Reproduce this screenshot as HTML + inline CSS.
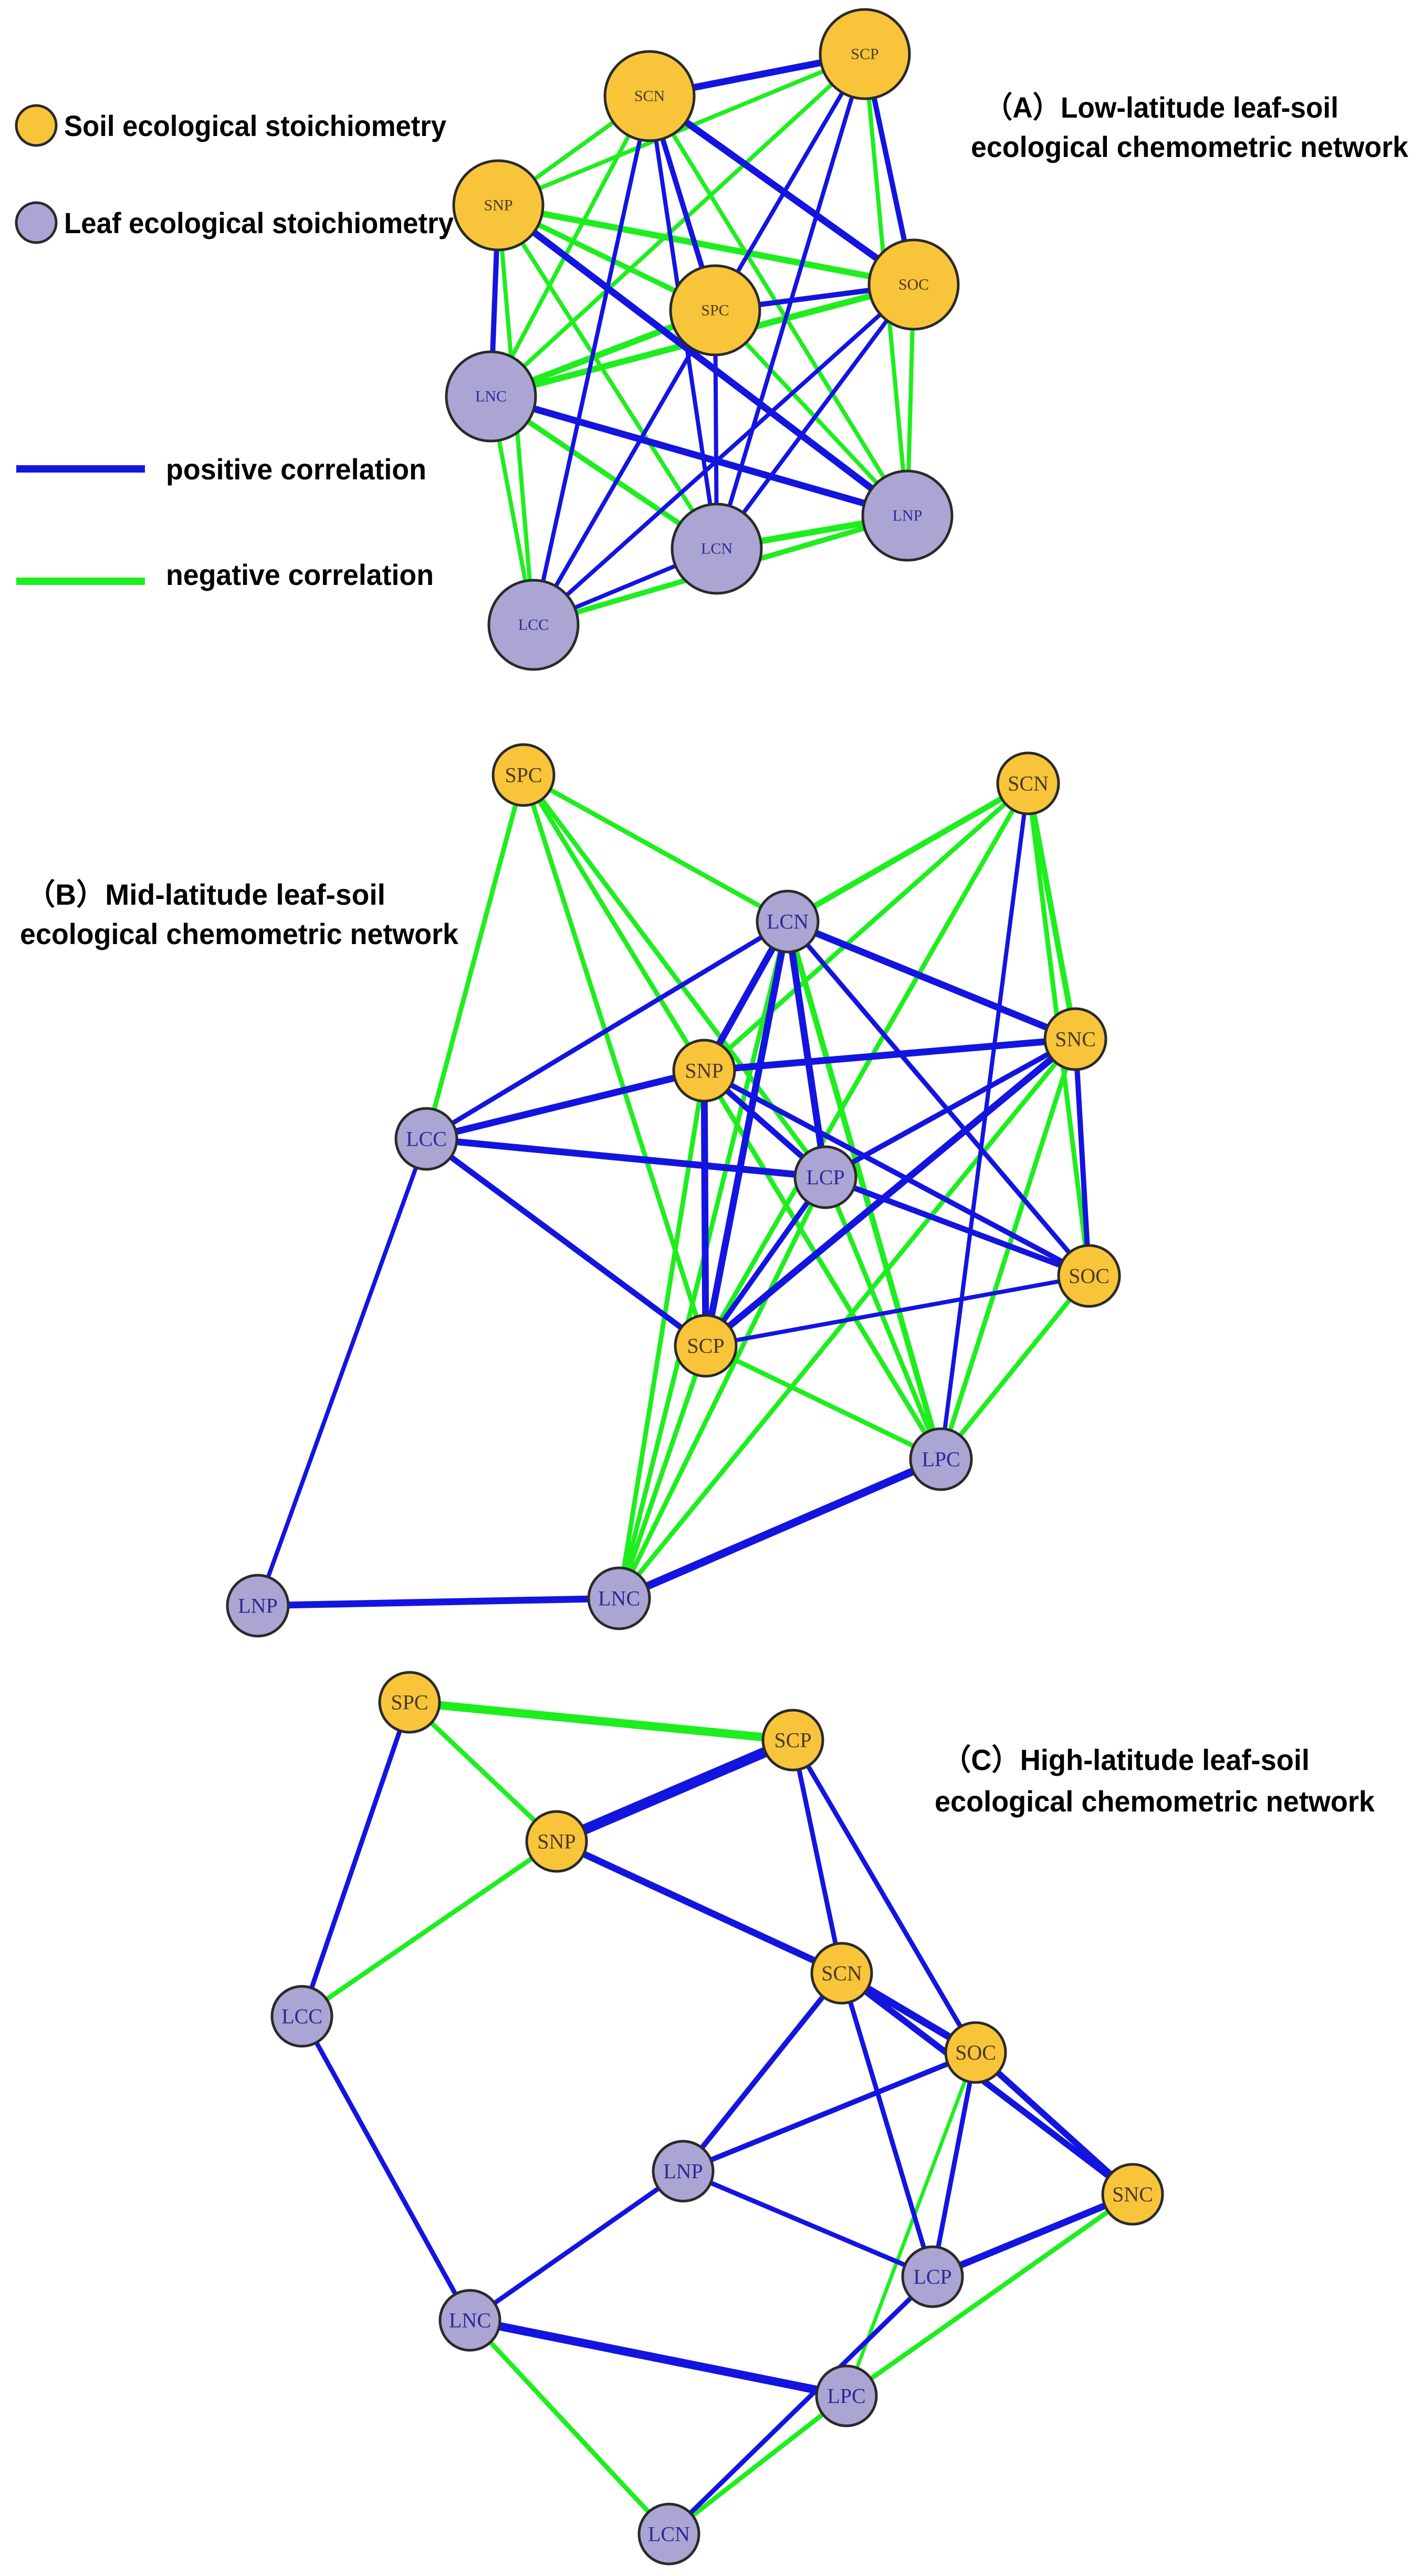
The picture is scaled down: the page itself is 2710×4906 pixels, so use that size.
<!DOCTYPE html>
<html><head><meta charset="utf-8"><style>
html,body{margin:0;padding:0;background:#fff;}
svg{display:block;}
.b{stroke:#1414E0;}
.g{stroke:#1EEE1E;}
line{stroke-linecap:butt;}
.s{fill:#F8C43A;stroke:#2a2a2a;stroke-width:5;}
.l{fill:#ABA5D3;stroke:#2a2a2a;stroke-width:5;}
.ts{font-family:"Liberation Serif",serif;fill:#4a3a28;text-anchor:middle;dominant-baseline:central;}
.tl{font-family:"Liberation Serif",serif;fill:#2a2a96;text-anchor:middle;dominant-baseline:central;}
.h{font-family:"Liberation Sans",sans-serif;font-weight:bold;fill:#000;font-size:56px;}
</style></head><body>
<svg width="2710" height="4906" viewBox="0 0 2710 4906" xmlns="http://www.w3.org/2000/svg">
<!-- Legend -->
<circle cx="69" cy="239" r="38" class="s" stroke-width="4"/>
<circle cx="69" cy="424" r="38" class="l" stroke-width="4"/>
<text class="h" x="122" y="259" textLength="728" lengthAdjust="spacingAndGlyphs">Soil ecological stoichiometry</text>
<text class="h" x="122" y="444" textLength="742" lengthAdjust="spacingAndGlyphs">Leaf ecological stoichiometry</text>
<line x1="31" y1="893" x2="276" y2="893" class="b" stroke-width="14"/>
<line x1="31" y1="1107" x2="276" y2="1107" class="g" stroke-width="14"/>
<text class="h" x="316" y="913" textLength="496" lengthAdjust="spacingAndGlyphs">positive correlation</text>
<text class="h" x="316" y="1114" textLength="510" lengthAdjust="spacingAndGlyphs">negative correlation</text>
<text class="h" x="1875" y="224" textLength="674" lengthAdjust="spacingAndGlyphs">（A）Low-latitude leaf-soil</text>
<text class="h" x="1849" y="299" textLength="833" lengthAdjust="spacingAndGlyphs">ecological chemometric network</text>
<text class="h" x="50" y="1723" textLength="684" lengthAdjust="spacingAndGlyphs">（B）Mid-latitude leaf-soil</text>
<text class="h" x="38" y="1798" textLength="835" lengthAdjust="spacingAndGlyphs">ecological chemometric network</text>
<text class="h" x="1795" y="3371" textLength="699" lengthAdjust="spacingAndGlyphs">（C）High-latitude leaf-soil</text>
<text class="h" x="1780" y="3450" textLength="838" lengthAdjust="spacingAndGlyphs">ecological chemometric network</text>

<!-- Panel A edges -->
<g>
<!-- green thin -->
<g stroke-width="8" class="g">
<line x1="1237" y1="183" x2="949" y2="391" class="g"/>
<line x1="1237" y1="183" x2="935" y2="755" class="g"/>
<line x1="1237" y1="183" x2="1728" y2="982" class="g"/>
<line x1="1647" y1="103" x2="949" y2="391" class="g"/>
<line x1="1647" y1="103" x2="935" y2="755" class="g"/>
<line x1="1647" y1="103" x2="1728" y2="982" class="g"/>
<line x1="949" y1="391" x2="1362" y2="591" class="g" stroke-width="10"/>
<line x1="949" y1="391" x2="1365" y2="1045" class="g"/>
<line x1="949" y1="391" x2="1016" y2="1190" class="g"/>
<line x1="1362" y1="591" x2="1728" y2="982" class="g"/>
<line x1="1740" y1="542" x2="1728" y2="982" class="g"/>
<line x1="935" y1="755" x2="1365" y2="1045" class="g" stroke-width="10"/>
<line x1="935" y1="755" x2="1016" y2="1190" class="g"/>
<line x1="1728" y1="982" x2="1016" y2="1190" class="g" stroke-width="10"/>
</g>
<g stroke-width="12">
<line x1="949" y1="391" x2="1740" y2="542" class="g"/>
<line x1="1362" y1="591" x2="935" y2="755" class="g"/>
<line x1="1740" y1="542" x2="935" y2="755" class="g"/>
<line x1="1365" y1="1045" x2="1728" y2="982" class="g"/>
</g>
<g stroke-width="8">
<line x1="1237" y1="183" x2="1016" y2="1190" class="b"/>
<line x1="1237" y1="183" x2="1362" y2="591" class="b" stroke-width="10"/>
<line x1="1237" y1="183" x2="1365" y2="1045" class="b"/>
<line x1="1647" y1="103" x2="1362" y2="591" class="b"/>
<line x1="1647" y1="103" x2="1365" y2="1045" class="b"/>
<line x1="1647" y1="103" x2="1740" y2="542" class="b" stroke-width="10"/>
<line x1="949" y1="391" x2="935" y2="755" class="b" stroke-width="10"/>
<line x1="1362" y1="591" x2="1740" y2="542" class="b" stroke-width="10"/>
<line x1="1362" y1="591" x2="1016" y2="1190" class="b"/>
<line x1="1362" y1="591" x2="1365" y2="1045" class="b"/>
<line x1="1740" y1="542" x2="1016" y2="1190" class="b"/>
<line x1="1740" y1="542" x2="1365" y2="1045" class="b"/>
<line x1="1365" y1="1045" x2="1016" y2="1190" class="b"/>
</g>
<g stroke-width="13">
<line x1="1237" y1="183" x2="1647" y2="103" class="b"/>
<line x1="1237" y1="183" x2="1740" y2="542" class="b"/>
<line x1="949" y1="391" x2="1728" y2="982" class="b"/>
<line x1="935" y1="755" x2="1728" y2="982" class="b"/>
</g>
</g>
<!-- Panel A nodes -->
<g font-size="30">
<circle cx="1237" cy="183" r="85" class="s"/><text x="1237" y="183" class="ts" font-size="30">SCN</text>
<circle cx="1647" cy="103" r="85" class="s"/><text x="1647" y="103" class="ts" font-size="30">SCP</text>
<circle cx="949" cy="391" r="85" class="s"/><text x="949" y="391" class="ts" font-size="30">SNP</text>
<circle cx="1740" cy="542" r="85" class="s"/><text x="1740" y="542" class="ts" font-size="30">SOC</text>
<circle cx="1362" cy="591" r="85" class="s"/><text x="1362" y="591" class="ts" font-size="30">SPC</text>
<circle cx="935" cy="755" r="85" class="l"/><text x="935" y="755" class="tl" font-size="30">LNC</text>
<circle cx="1728" cy="982" r="85" class="l"/><text x="1728" y="982" class="tl" font-size="30">LNP</text>
<circle cx="1365" cy="1045" r="85" class="l"/><text x="1365" y="1045" class="tl" font-size="30">LCN</text>
<circle cx="1016" cy="1190" r="85" class="l"/><text x="1016" y="1190" class="tl" font-size="30">LCC</text>
</g>

<!-- Panel B edges -->
<g stroke-width="9">
<line x1="997" y1="1476" x2="812" y2="2169" class="g"/>
<line x1="997" y1="1476" x2="1500" y2="1755" class="g"/>
<line x1="997" y1="1476" x2="1344" y2="2563" class="g"/>
<line x1="997" y1="1476" x2="1572" y2="2242" class="g"/>
<line x1="997" y1="1476" x2="1792" y2="2779" class="g"/>
<line x1="1958" y1="1492" x2="1500" y2="1755" class="g" stroke-width="11"/>
<line x1="1958" y1="1492" x2="1341" y2="2039" class="g"/>
<line x1="1958" y1="1492" x2="1344" y2="2563" class="g"/>
<line x1="1958" y1="1492" x2="2048" y2="1979" class="g" stroke-width="11"/>
<line x1="1958" y1="1492" x2="2074" y2="2430" class="g"/>
<line x1="1500" y1="1755" x2="1792" y2="2779" class="g" stroke-width="11"/>
<line x1="1500" y1="1755" x2="1179" y2="3044" class="g"/>
<line x1="2048" y1="1979" x2="1792" y2="2779" class="g"/>
<line x1="2048" y1="1979" x2="1179" y2="3044" class="g"/>
<line x1="1341" y1="2039" x2="1792" y2="2779" class="g"/>
<line x1="1341" y1="2039" x2="1179" y2="3044" class="g"/>
<line x1="1572" y1="2242" x2="1792" y2="2779" class="g"/>
<line x1="1572" y1="2242" x2="1179" y2="3044" class="g"/>
<line x1="2074" y1="2430" x2="1792" y2="2779" class="g"/>
<line x1="1344" y1="2563" x2="1792" y2="2779" class="g"/>
<line x1="1344" y1="2563" x2="1179" y2="3044" class="g"/>
</g>
<g stroke-width="8">
<line x1="1958" y1="1492" x2="1792" y2="2779" class="b"/>
<line x1="1500" y1="1755" x2="812" y2="2169" class="b" stroke-width="9"/>
<line x1="1500" y1="1755" x2="2074" y2="2430" class="b" stroke-width="9"/>
<line x1="2048" y1="1979" x2="1572" y2="2242" class="b" stroke-width="10"/>
<line x1="2048" y1="1979" x2="2074" y2="2430" class="b" stroke-width="10"/>
<line x1="1341" y1="2039" x2="2074" y2="2430" class="b" stroke-width="10"/>
<line x1="1341" y1="2039" x2="1572" y2="2242" class="b" stroke-width="11"/>
<line x1="812" y1="2169" x2="491" y2="3058" class="b"/>
<line x1="1572" y1="2242" x2="1344" y2="2563" class="b" stroke-width="10"/>
<line x1="2074" y1="2430" x2="1344" y2="2563" class="b"/>
</g>
<g stroke-width="13">
<line x1="1500" y1="1755" x2="2048" y2="1979" class="b"/>
<line x1="1500" y1="1755" x2="1341" y2="2039" class="b"/>
<line x1="1500" y1="1755" x2="1572" y2="2242" class="b"/>
<line x1="1500" y1="1755" x2="1344" y2="2563" class="b"/>
<line x1="2048" y1="1979" x2="1341" y2="2039" class="b"/>
<line x1="2048" y1="1979" x2="1344" y2="2563" class="b"/>
<line x1="1341" y1="2039" x2="812" y2="2169" class="b"/>
<line x1="1341" y1="2039" x2="1344" y2="2563" class="b"/>
<line x1="812" y1="2169" x2="1572" y2="2242" class="b"/>
<line x1="812" y1="2169" x2="1344" y2="2563" class="b" stroke-width="11"/>
<line x1="1572" y1="2242" x2="2074" y2="2430" class="b" stroke-width="11"/>
<line x1="1792" y1="2779" x2="1179" y2="3044" class="b" stroke-width="15"/>
<line x1="491" y1="3058" x2="1179" y2="3044" class="b"/>
</g>
<!-- Panel B nodes -->
<g>
<circle cx="997" cy="1476" r="58" class="s"/><text x="997" y="1476" class="ts" font-size="40">SPC</text>
<circle cx="1958" cy="1492" r="58" class="s"/><text x="1958" y="1492" class="ts" font-size="40">SCN</text>
<circle cx="1500" cy="1755" r="58" class="l"/><text x="1500" y="1755" class="tl" font-size="40">LCN</text>
<circle cx="2048" cy="1979" r="58" class="s"/><text x="2048" y="1979" class="ts" font-size="40">SNC</text>
<circle cx="1341" cy="2039" r="58" class="s"/><text x="1341" y="2039" class="ts" font-size="40">SNP</text>
<circle cx="812" cy="2169" r="58" class="l"/><text x="812" y="2169" class="tl" font-size="40">LCC</text>
<circle cx="1572" cy="2242" r="58" class="l"/><text x="1572" y="2242" class="tl" font-size="40">LCP</text>
<circle cx="2074" cy="2430" r="58" class="s"/><text x="2074" y="2430" class="ts" font-size="40">SOC</text>
<circle cx="1344" cy="2563" r="58" class="s"/><text x="1344" y="2563" class="ts" font-size="40">SCP</text>
<circle cx="1792" cy="2779" r="58" class="l"/><text x="1792" y="2779" class="tl" font-size="40">LPC</text>
<circle cx="491" cy="3058" r="58" class="l"/><text x="491" y="3058" class="tl" font-size="40">LNP</text>
<circle cx="1179" cy="3044" r="58" class="l"/><text x="1179" y="3044" class="tl" font-size="40">LNC</text>
</g>

<!-- Panel C edges -->
<g stroke-width="9">
<line x1="780" y1="3242" x2="1510" y2="3314" class="g" stroke-width="16"/>
<line x1="780" y1="3242" x2="1060" y2="3507" class="g"/>
<line x1="1060" y1="3507" x2="575" y2="3840" class="g"/>
<line x1="1858" y1="3909" x2="1612" y2="4563" class="g" stroke-width="7"/>
<line x1="2157" y1="4179" x2="1612" y2="4563" class="g"/>
<line x1="1612" y1="4563" x2="1274" y2="4826" class="g"/>
<line x1="895" y1="4419" x2="1274" y2="4826" class="g"/>
<line x1="780" y1="3242" x2="575" y2="3840" class="b"/>
<line x1="1510" y1="3314" x2="1603" y2="3758" class="b"/>
<line x1="1510" y1="3314" x2="1858" y2="3909" class="b"/>
<line x1="1603" y1="3758" x2="1301" y2="4135" class="b" stroke-width="10"/>
<line x1="1603" y1="3758" x2="1776" y2="4336" class="b"/>
<line x1="1858" y1="3909" x2="1301" y2="4135" class="b" stroke-width="10"/>
<line x1="1858" y1="3909" x2="1776" y2="4336" class="b"/>
<line x1="575" y1="3840" x2="895" y2="4419" class="b"/>
<line x1="1301" y1="4135" x2="895" y2="4419" class="b"/>
<line x1="1301" y1="4135" x2="1776" y2="4336" class="b"/>
<line x1="1776" y1="4336" x2="1274" y2="4826" class="b"/>
</g>
<g>
<line x1="1510" y1="3314" x2="1060" y2="3507" class="b" stroke-width="20"/>
<line x1="1060" y1="3507" x2="1603" y2="3758" class="b" stroke-width="13"/>
<line x1="1603" y1="3758" x2="1858" y2="3909" class="b" stroke-width="14"/>
<line x1="1603" y1="3758" x2="2157" y2="4179" class="b" stroke-width="12"/>
<line x1="1858" y1="3909" x2="2157" y2="4179" class="b" stroke-width="12"/>
<line x1="2157" y1="4179" x2="1776" y2="4336" class="b" stroke-width="13"/>
<line x1="895" y1="4419" x2="1612" y2="4563" class="b" stroke-width="16"/>
</g>
<!-- Panel C nodes -->
<g>
<circle cx="780" cy="3242" r="57" class="s"/><text x="780" y="3242" class="ts" font-size="40">SPC</text>
<circle cx="1510" cy="3314" r="57" class="s"/><text x="1510" y="3314" class="ts" font-size="40">SCP</text>
<circle cx="1060" cy="3507" r="57" class="s"/><text x="1060" y="3507" class="ts" font-size="40">SNP</text>
<circle cx="1603" cy="3758" r="57" class="s"/><text x="1603" y="3758" class="ts" font-size="40">SCN</text>
<circle cx="575" cy="3840" r="57" class="l"/><text x="575" y="3840" class="tl" font-size="40">LCC</text>
<circle cx="1858" cy="3909" r="57" class="s"/><text x="1858" y="3909" class="ts" font-size="40">SOC</text>
<circle cx="1301" cy="4135" r="57" class="l"/><text x="1301" y="4135" class="tl" font-size="40">LNP</text>
<circle cx="2157" cy="4179" r="57" class="s"/><text x="2157" y="4179" class="ts" font-size="40">SNC</text>
<circle cx="1776" cy="4336" r="57" class="l"/><text x="1776" y="4336" class="tl" font-size="40">LCP</text>
<circle cx="895" cy="4419" r="57" class="l"/><text x="895" y="4419" class="tl" font-size="40">LNC</text>
<circle cx="1612" cy="4563" r="57" class="l"/><text x="1612" y="4563" class="tl" font-size="40">LPC</text>
<circle cx="1274" cy="4826" r="57" class="l"/><text x="1274" y="4826" class="tl" font-size="40">LCN</text>
</g>
</svg>
</body></html>
